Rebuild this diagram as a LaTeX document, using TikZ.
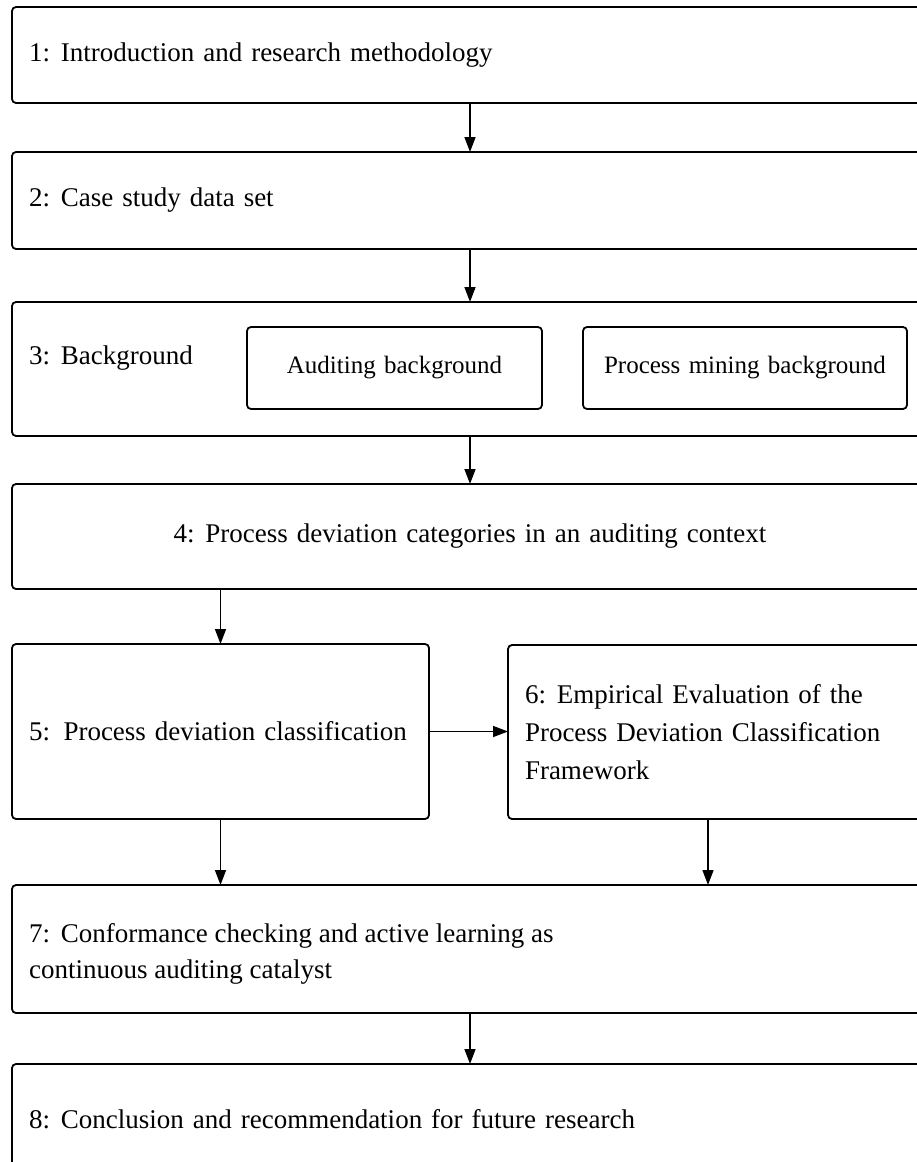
\documentclass[tikz,border=0pt]{standalone}
\usepackage{fontspec}
\setmainfont{Liberation Serif}
\usetikzlibrary{arrows.meta}
\newcommand{\boxfont}{\fontsize{27}{38}\selectfont\hyphenpenalty=10000\relax}
\newcommand{\subfont}{\fontsize{25}{34}\selectfont}
\tikzset{
  sect/.style={draw, line width=1.8pt, rounded corners=4pt, rectangle,
    anchor=north west, inner xsep=17pt, inner ysep=0pt, outer sep=0pt,
    align=left, font=\boxfont},
  subsect/.style={sect, align=center, inner xsep=0pt, font=\subfont},
  label text/.style={font=\boxfont, anchor=west, inner sep=0pt, align=left},
  flow/.style={line width=1.5pt, -{Triangle[length=15pt,width=11pt]}},
}
\begin{document}
\begin{tikzpicture}[x=1pt, y=-1pt]
  \useasboundingbox (0,0) rectangle (917,1162);
  \clip (0,0) rectangle (917,1162);
  \fill[white] (0,0) rectangle (917,1162);

  % chapter boxes (the wide ones run past the right edge)
  \node[sect, text width=882pt, minimum height=96pt] (b1) at (12,7)
    {1:\hspace{0.4em}Introduction and research methodology};
  \node[sect, text width=882pt, minimum height=97pt] (b2) at (12,152)
    {2:\hspace{0.4em}Case study data set};
  \node[sect, text width=882pt, minimum height=134pt] (b3) at (12,302) {};
  \node[label text] (b3t) at (29,358) {3:\hspace{0.4em}Background};
  \node[subsect, text width=295pt, minimum height=82pt] (aud) at (247,327)
    {Auditing background};
  \node[subsect, text width=324pt, minimum height=82pt] (pm) at (583,327)
    {Process mining background};
  \node[sect, align=center, text width=882pt, minimum height=105pt] (b4) at (12,484)
    {4:\hspace{0.4em}Process deviation categories in an auditing context};
  \node[sect, text width=383pt, minimum height=175pt] (b5) at (12,644)
    {5:\hspace{0.5em}Process deviation classification};
  \node[sect, text width=406pt, minimum height=174pt] (b6) at (508,645)
    {6:\hspace{0.4em}Empirical Evaluation of the\\
     Process Deviation Classification\\
     Framework};
  \node[sect, text width=882pt, minimum height=128pt] (b7) at (12,885) {};
  \node[label text] (b7t) at (29,954)
    {7:\hspace{0.4em}Conformance checking and active learning as\\[-2pt]
     continuous auditing catalyst};
  \node[sect, text width=882pt, minimum height=110pt] (b8) at (12,1064)
    {8:\hspace{0.4em}Conclusion and recommendation for future research};

  % connectors
  \coordinate (c6) at (708,819);
  \draw[flow] (b1.south) -- (b2.north);
  \draw[flow] (b2.south) -- (b3.north);
  \draw[flow] (b3.south) -- (b4.north);
  \draw[flow] (b5.north |- b4.south) -- (b5.north);
  \draw[flow] (b5.east) -- (b6.west |- b5.east);
  \draw[flow] (b5.south) -- (b5.south |- b7.north);
  \draw[flow] (c6) -- (c6 |- b7.north);
  \draw[flow] (b7.south) -- (b8.north);
\end{tikzpicture}
\end{document}
